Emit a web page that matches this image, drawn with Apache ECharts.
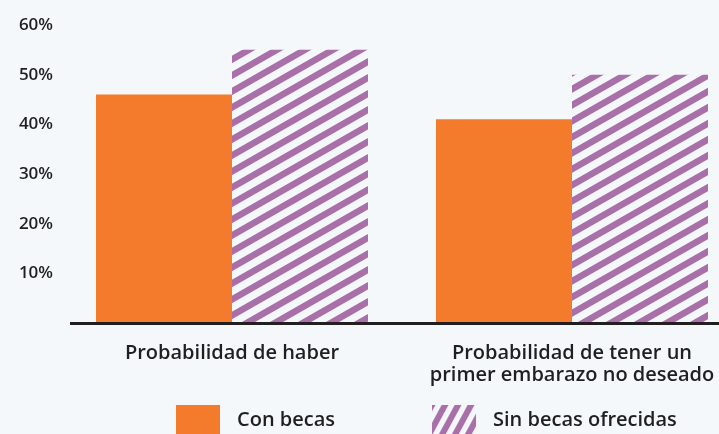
<!DOCTYPE html>
<html>
<head>
<meta charset="utf-8">
<script src="https://cdn.jsdelivr.net/npm/echarts@6/dist/echarts.min.js"></script>
<style>
html,body{margin:0;padding:0;background:#f4f8fb;}
#chart{width:719px;height:434px;}
</style>
</head>
<body>
<div id="chart"></div>
<script>
var categories = ['Probabilidad de haber', 'Probabilidad de tener un\nprimer embarazo no deseado'];
var conBecas = [46, 41];
var sinBecas = [55, 50];
var seriesNames = ['Con becas', 'Sin becas ofrecidas'];
var yTicks = [0, 10, 20, 30, 40, 50, 60];

var BG = '#f4f8fb', ORANGE = '#f47b2c', PURPLE = '#a96fa8', TXT = '#1f1f1f';

function stripeTile(W, H, lw) {
  var c = document.createElement('canvas');
  c.width = W; c.height = H;
  var g = c.getContext('2d');
  g.fillStyle = BG; g.fillRect(0, 0, W, H);
  g.strokeStyle = PURPLE; g.lineWidth = lw;
  for (var k = -2; k <= 2; k++) {
    g.beginPath();
    g.moveTo(-W, 2 * H + k * H);
    g.lineTo(2 * W, -H + k * H);
    g.stroke();
  }
  return c;
}
var barPattern = { image: stripeTile(28, 16, 6.5), repeat: 'repeat' };
var legendPattern = { image: stripeTile(13, 24, 6), repeat: 'repeat' };

var chart = echarts.init(document.getElementById('chart'));
var font = '"Open Sans", "Noto Sans", sans-serif';
chart.setOption({
  backgroundColor: BG,
  animation: false,
  textStyle: { fontFamily: font },
  grid: { left: 62, width: 680, top: 25, bottom: 111, containLabel: false, outerBoundsMode: 'none' },
  legend: {
    left: 176, top: 405, padding: 0,
    itemWidth: 44, itemHeight: 30, itemGap: 97,
    textStyle: { fontFamily: font, fontSize: 20, fontWeight: 600, color: TXT, padding: [0, 0, 0, 12] },
    data: [
      { name: seriesNames[0], icon: 'rect', itemStyle: { color: ORANGE } },
      { name: seriesNames[1], icon: 'rect', itemStyle: { color: legendPattern } }
    ]
  },
  xAxis: {
    type: 'category',
    data: categories,
    axisLine: { show: false },
    axisTick: { show: false },
    axisLabel: { fontFamily: font, fontSize: 20, fontWeight: 600, color: TXT, lineHeight: 22, margin: 19, interval: 0 }
  },
  yAxis: {
    type: 'value',
    min: yTicks[0], max: yTicks[yTicks.length - 1], interval: 10,
    splitLine: { show: false },
    axisLine: { show: false },
    axisTick: { show: false },
    axisLabel: {
      fontFamily: font, fontSize: 17, fontWeight: 600, color: TXT, margin: 9,
      formatter: function (v) { return v === 0 ? '' : v + '%'; }
    }
  },
  series: [
    { name: seriesNames[0], type: 'bar', data: conBecas, barWidth: 136, barGap: '0%', itemStyle: { color: ORANGE } },
    { name: seriesNames[1], type: 'bar', data: sinBecas, barWidth: 136, barGap: '0%', itemStyle: { color: barPattern } }
  ]
});
var y0 = chart.convertToPixel({ yAxisIndex: 0 }, 0);
chart.setOption({
  graphic: [{
    type: 'line', z: 100,
    shape: { x1: 70, y1: y0 + 0.5, x2: 719, y2: y0 + 0.5 },
    style: { stroke: '#231f20', lineWidth: 3 }
  }]
});
</script>
</body>
</html>
